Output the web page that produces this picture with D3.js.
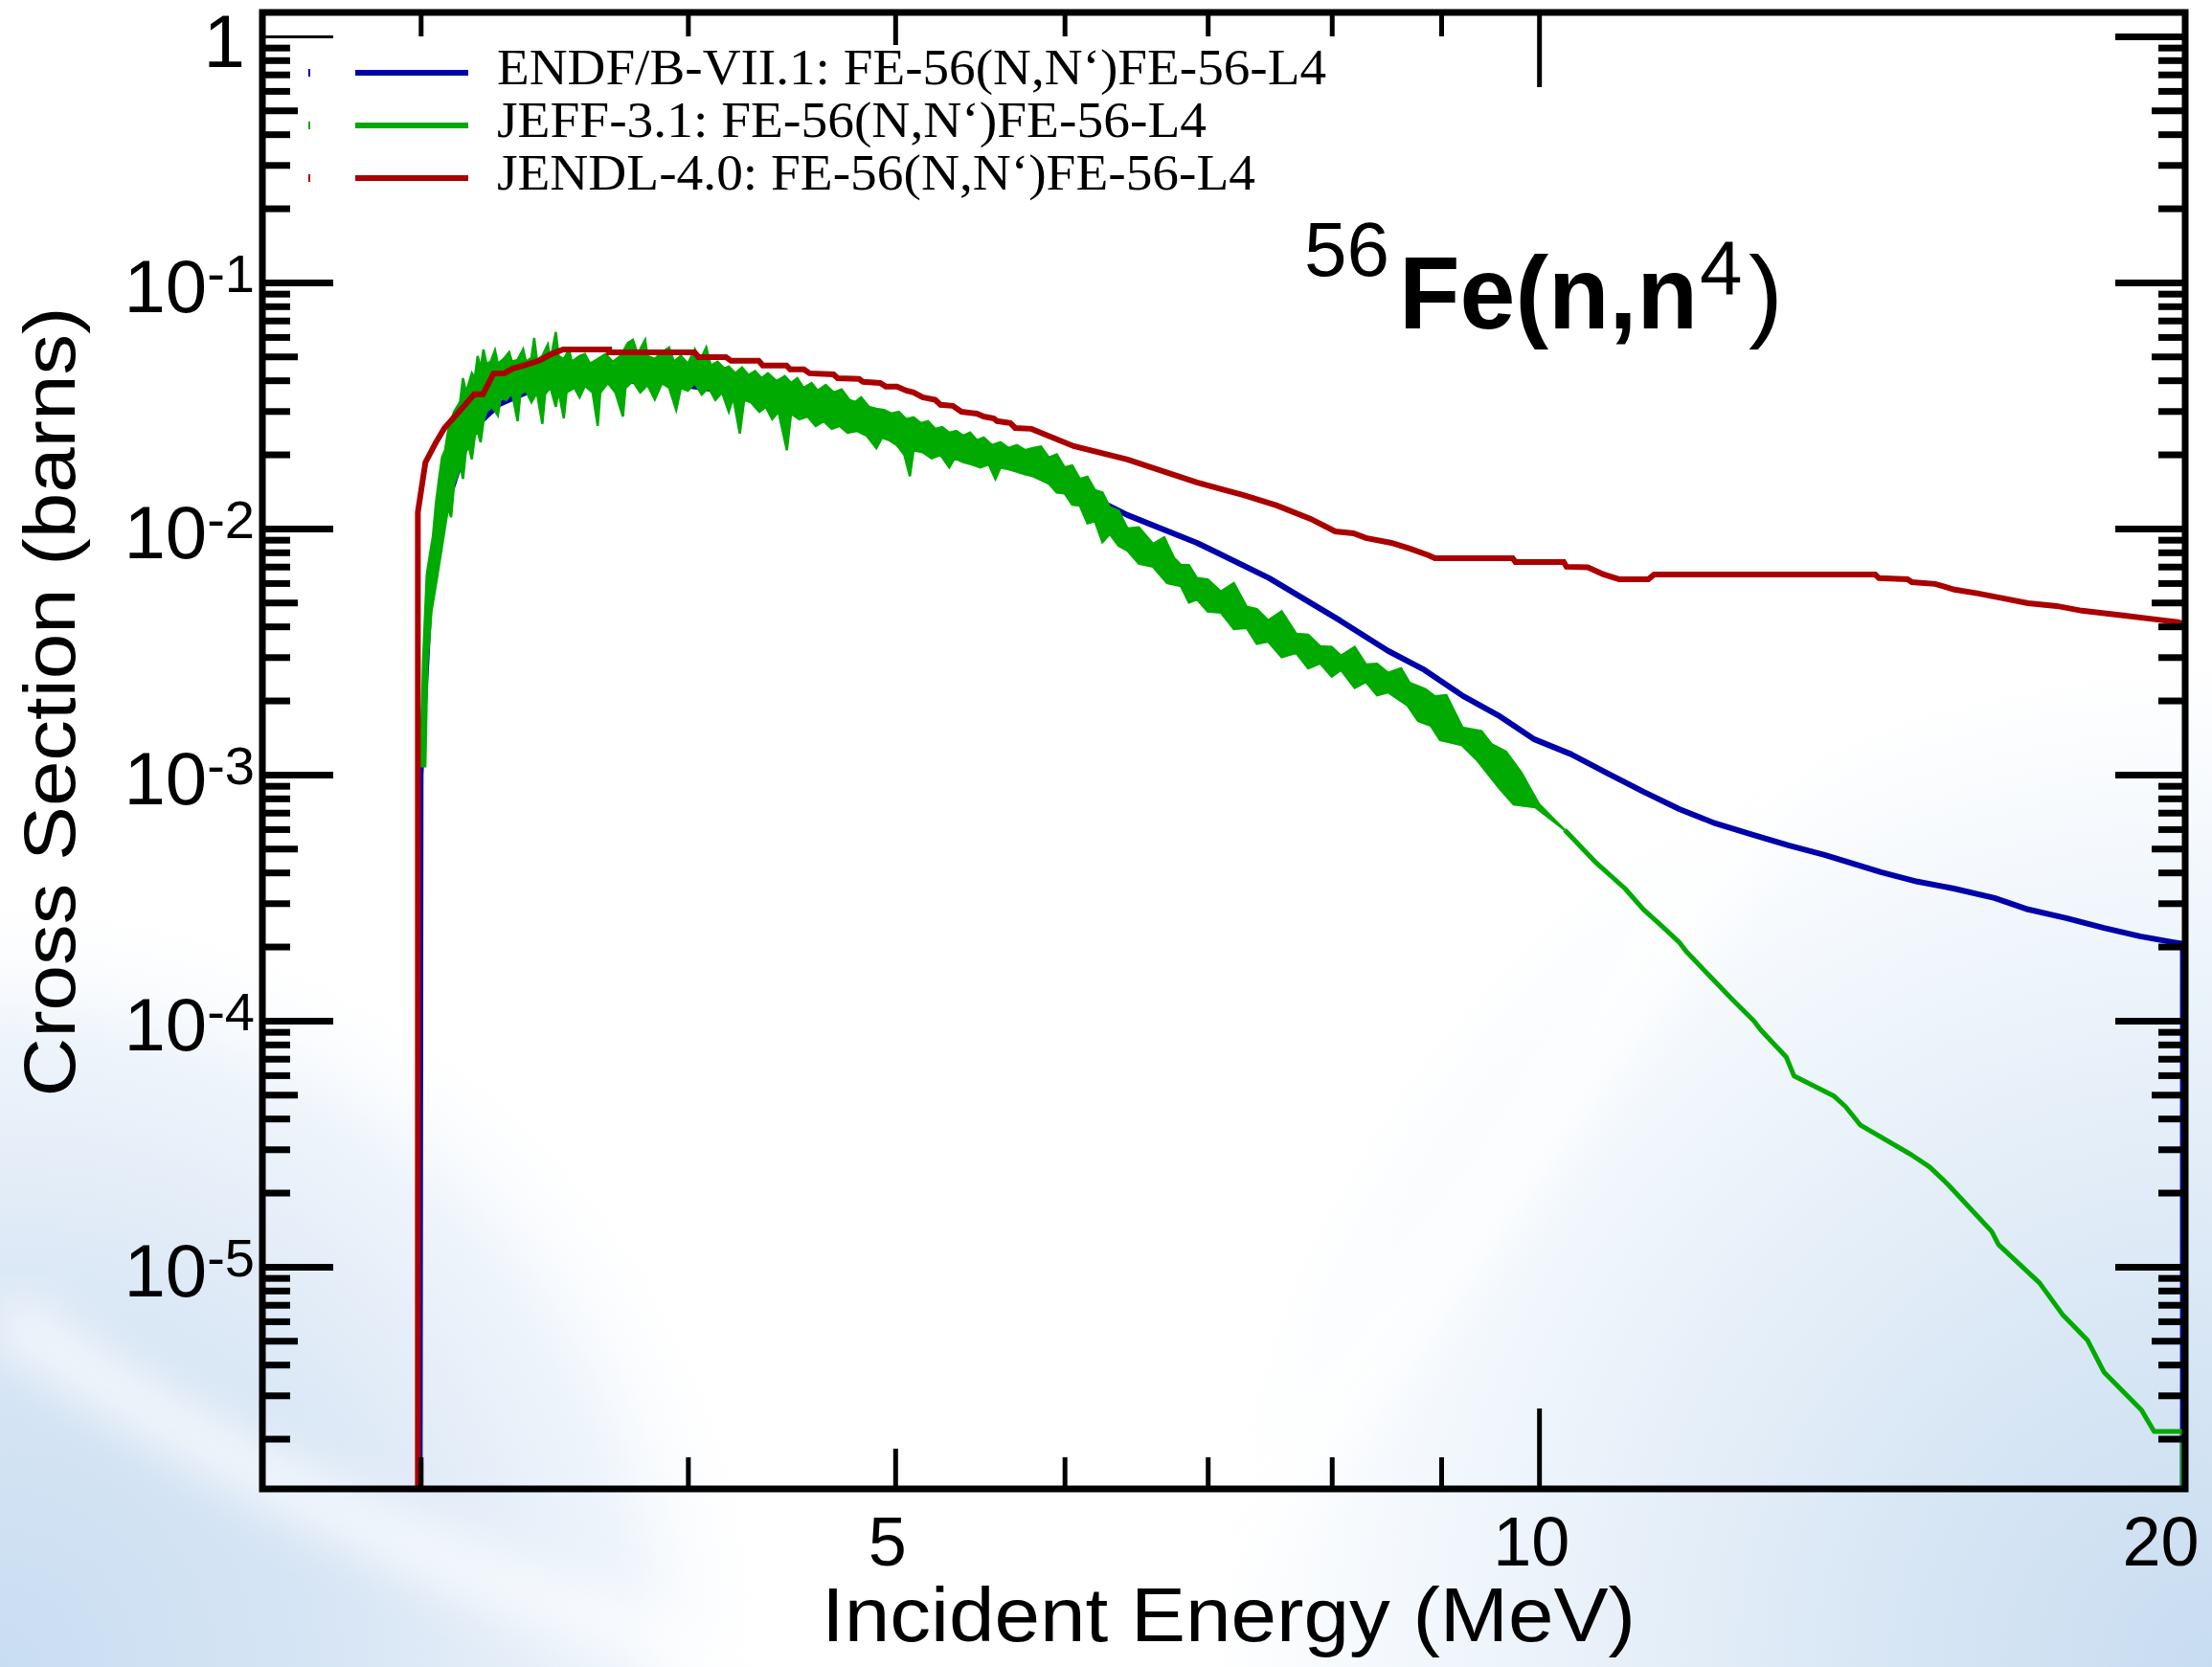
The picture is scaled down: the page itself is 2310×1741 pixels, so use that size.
<!DOCTYPE html>
<html>
<head>
<meta charset="utf-8">
<script src="https://cdn.jsdelivr.net/npm/d3@7"></script>
<style>
  body { margin: 0; background: #fff; }
  svg { display: block; }
</style>
</head>
<body>
<div id="chart"></div>
<script>
// ---- data (energy in MeV, cross section in barns) ----
var seriesNames = [
  'ENDF/B-VII.1: FE-56(N,N\u2018)FE-56-L4',
  'JEFF-3.1: FE-56(N,N\u2018)FE-56-L4',
  'JENDL-4.0: FE-56(N,N\u2018)FE-56-L4'
];
var seriesColors = ['#0000aa', '#00aa00', '#aa0000'];

var endf = [[2.995,1e-8],[3.0,1.0e-3],[3.012,1.98e-3],[3.019,2.9e-3],[3.034,0.0065],[3.056,0.00874],
  [3.078,0.01186],[3.106,0.01497],[3.141,0.0203],[3.19,0.02655],[3.265,0.032],[3.385,0.0367],
  [3.475,0.039],[3.64,0.0397],[3.86,0.0397],[4.07,0.0373],[4.27,0.0347],[4.49,0.0341],[4.68,0.0306],
  [4.91,0.028],[5.14,0.0249],[5.37,0.0222],[5.61,0.0191],[5.79,0.01775],[6.42,0.01134],[6.92,0.00874],
  [7.48,0.00628],[8.07,0.00423],[8.5,0.00318],[8.84,0.00266],[9.21,0.00209],[9.57,0.00174],
  [9.95,0.00139],[10.35,0.00121],[10.77,0.00101],[11.19,0.000851],[11.63,0.000724],[12.09,0.000633],
  [12.59,0.000569],[13.08,0.000515],[13.6,0.000471],[14.45,0.000401],[15.03,0.000367],[15.63,0.000344],
  [16.33,0.000315],[16.93,0.000283],[17.64,0.000261],[18.37,0.000238],[19.1,0.00022],[19.8,0.000208],
  [20.0,0.000205],[20.0,1e-8]];

var jendl = [[2.991,1e-8],[2.991,0.01164],[3.0155,0.01856],[3.05,0.0224],[3.078,0.0256],[3.155,0.0326],
  [3.178,0.0351],[3.208,0.0351],[3.245,0.0427],[3.282,0.0427],[3.313,0.0447],[3.351,0.0459],[3.407,0.048],
  [3.453,0.0511],[3.497,0.0534],[3.675,0.0534],[3.675,0.052],[4.029,0.052],[4.046,0.0497],[4.167,0.0497],
  [4.19,0.048],[4.317,0.048],[4.336,0.0459],[4.448,0.0459],[4.466,0.0443],[4.532,0.0443],[4.56,0.0427],
  [4.679,0.0423],[4.7,0.0408],[4.81,0.0405],[4.83,0.0394],[4.92,0.039],[4.95,0.0377],[5.01,0.0377],
  [5.06,0.0363],[5.1,0.0357],[5.15,0.0341],[5.22,0.0333],[5.25,0.0318],[5.32,0.0315],[5.37,0.0298],
  [5.46,0.0293],[5.5,0.0285],[5.56,0.028],[5.58,0.0273],[5.66,0.0268],[5.69,0.0256],[5.79,0.0254],
  [6.06,0.0216],[6.42,0.01906],[6.92,0.01537],[7.27,0.01368],[7.54,0.0124],[7.82,0.01094],[8.03,0.00973],
  [8.19,0.00956],[8.3,0.00915],[8.53,0.00874],[8.7,0.00829],[8.88,0.00778],[8.94,0.00757],[9.72,0.00757],
  [9.75,0.00731],[10.27,0.00731],[10.3,0.00699],[10.54,0.00695],[10.72,0.0065],[10.9,0.00622],
  [11.25,0.00622],[11.32,0.0065],[14.36,0.0065],[14.42,0.00628],[14.87,0.00622],[14.94,0.00605],
  [15.32,0.00595],[15.64,0.00564],[16.05,0.00544],[16.48,0.0052],[16.93,0.00497],[17.46,0.00484],
  [17.94,0.00463],[18.79,0.00442],[19.42,0.00427],[19.89,0.00416],[20.0,0.0041]];

// JEFF-3.1 fluctuates strongly below ~10 MeV: upper and lower edge of the green band
var jeffUpper = [[3.0,1.08e-3],[3.008,2.9e-3],[3.02,6.5e-3],[3.03,7.8e-3],[3.04,9.3e-3],[3.05,0.0127],
  [3.06,0.0159],[3.07,0.0195],[3.08,0.0208],[3.09,0.0249],[3.10,0.0273],[3.11,0.0298],[3.12,0.0312],
  [3.13,0.0326],[3.14,0.0408],[3.15,0.0357],[3.16,0.039],[3.17,0.0427],[3.18,0.0408],[3.19,0.0502],
  [3.20,0.0447],[3.21,0.0534],[3.22,0.0467],[3.235,0.0476],[3.25,0.0529],[3.26,0.0467],[3.28,0.0488],
  [3.30,0.052],[3.31,0.0476],[3.33,0.0484],[3.35,0.0534],[3.36,0.0476],[3.38,0.0493],[3.39,0.0595],
  [3.40,0.0484],[3.42,0.0502],[3.44,0.0559],[3.45,0.0484],[3.47,0.0628],[3.48,0.0502],[3.50,0.0488],
  [3.52,0.0534],[3.53,0.0476],[3.56,0.0502],[3.58,0.0511],[3.60,0.0467],[3.63,0.0488],[3.66,0.0511],
  [3.69,0.0476],[3.72,0.0502],[3.75,0.0568],[3.77,0.0584],[3.79,0.0511],[3.82,0.0584],[3.83,0.0502],
  [3.86,0.0488],[3.89,0.052],[3.92,0.0544],[3.94,0.0476],[3.97,0.0502],[4.00,0.0467],[4.03,0.0534],
  [4.05,0.0476],[4.08,0.0544],[4.10,0.0459],[4.13,0.0476],[4.16,0.0447],[4.18,0.0455],[4.21,0.0427],
  [4.24,0.0451],[4.27,0.042],[4.30,0.0436],[4.33,0.0408],[4.36,0.0427],[4.40,0.0397],[4.44,0.0416],
  [4.47,0.039],[4.50,0.0408],[4.53,0.0373],[4.57,0.039],[4.60,0.0363],[4.64,0.0383],[4.68,0.0357],
  [4.72,0.0367],[4.76,0.0333],[4.79,0.0326],[4.82,0.0341],[4.86,0.0312],[4.90,0.0306],[4.94,0.0303],
  [4.98,0.0293],[5.02,0.0298],[5.06,0.0278],[5.10,0.0283],[5.14,0.0268],[5.18,0.0273],[5.22,0.0254],
  [5.26,0.0258],[5.30,0.0245],[5.34,0.0249],[5.38,0.0238],[5.42,0.0245],[5.46,0.0228],[5.50,0.0234],
  [5.55,0.0218],[5.60,0.0224],[5.65,0.0212],[5.70,0.0218],[5.75,0.0208],[5.80,0.0212],[5.85,0.0215],
  [5.9,0.0194],[5.95,0.0200],[6.0,0.0177],[6.05,0.0180],[6.1,0.0159],[6.15,0.0162],[6.2,0.0143],
  [6.25,0.0140],[6.3,0.0122],[6.36,0.0118],[6.42,0.0100],[6.5,0.0101],[6.6,0.00866],[6.68,0.0092],
  [6.75,0.0076],[6.8,0.00711],[6.86,0.0071],[6.92,0.00628],[7.0,0.0062],[7.1,0.00554],[7.2,0.0060],
  [7.3,0.0048],[7.38,0.0047],[7.47,0.00423],[7.58,0.0046],[7.7,0.00373],[7.8,0.0037],[7.9,0.00332],
  [8.0,0.0033],[8.08,0.00304],[8.2,0.0033],[8.3,0.0028],[8.4,0.00282],[8.5,0.00259],[8.62,0.0027],
  [8.7,0.00236],[8.85,0.00222],[8.94,0.00208],[9.05,0.0021],[9.21,0.00155],[9.4,0.0015],[9.5,0.00133],
  [9.65,0.00124],[9.81,0.00102],[10.0,0.000757],[10.28,0.000595]];
var jeffLower = [[3.015,1.08e-3],[3.022,2.9e-3],[3.035,4.6e-3],[3.05,5.95e-3],[3.06,7.1e-3],[3.075,9.3e-3],
  [3.09,0.0122],[3.10,0.0111],[3.11,0.0152],[3.12,0.0163],[3.13,0.0182],[3.14,0.0159],[3.15,0.0208],
  [3.16,0.0214],[3.17,0.0191],[3.18,0.0238],[3.19,0.0249],[3.20,0.0224],[3.21,0.0273],[3.22,0.0298],
  [3.24,0.0312],[3.26,0.0288],[3.27,0.0341],[3.29,0.0333],[3.31,0.0357],[3.33,0.0273],[3.34,0.0352],
  [3.36,0.0363],[3.38,0.0326],[3.40,0.0357],[3.42,0.0266],[3.43,0.0352],[3.45,0.0373],[3.47,0.0312],
  [3.48,0.0363],[3.50,0.028],[3.51,0.0357],[3.54,0.0373],[3.56,0.0341],[3.58,0.038],[3.61,0.0357],
  [3.63,0.0261],[3.64,0.0357],[3.67,0.039],[3.70,0.0357],[3.73,0.0285],[3.74,0.0373],[3.77,0.0397],
  [3.80,0.0357],[3.83,0.0383],[3.86,0.0335],[3.89,0.039],[3.92,0.0373],[3.95,0.0303],[3.97,0.0373],
  [4.00,0.0363],[4.03,0.039],[4.06,0.035],[4.09,0.0373],[4.12,0.0333],[4.15,0.0357],[4.18,0.0298],
  [4.20,0.0341],[4.23,0.0243],[4.25,0.0333],[4.28,0.0326],[4.32,0.0298],[4.35,0.0312],[4.38,0.0278],
  [4.41,0.0298],[4.45,0.0208],[4.47,0.0293],[4.51,0.0278],[4.55,0.0285],[4.59,0.0261],[4.63,0.0273],
  [4.67,0.0254],[4.71,0.0261],[4.75,0.0245],[4.80,0.0249],[4.85,0.0238],[4.90,0.0212],[4.93,0.0234],
  [4.97,0.0228],[5.01,0.0218],[5.05,0.0199],[5.08,0.0163],[5.10,0.0208],[5.15,0.0204],[5.20,0.0193],
  [5.25,0.0199],[5.30,0.0177],[5.33,0.0193],[5.38,0.0186],[5.43,0.0182],[5.48,0.0177],[5.53,0.0182],
  [5.57,0.0159],[5.60,0.0177],[5.65,0.0174],[5.70,0.017],[5.75,0.0166],[5.80,0.0163],[5.9,0.0152],
  [5.95,0.0140],[6.0,0.0139],[6.05,0.0125],[6.1,0.0124],[6.15,0.0105],[6.2,0.0107],[6.25,0.0088],
  [6.3,0.0095],[6.36,0.0085],[6.42,0.00814],[6.5,0.0072],[6.6,0.00699],[6.7,0.0060],[6.8,0.00584],
  [6.86,0.0050],[6.92,0.00515],[7.0,0.0046],[7.1,0.00455],[7.2,0.0039],[7.3,0.00394],[7.38,0.0034],
  [7.47,0.00347],[7.58,0.0030],[7.7,0.00312],[7.8,0.0027],[7.9,0.00283],[8.0,0.0025],[8.08,0.00266],
  [8.2,0.00225],[8.3,0.00238],[8.4,0.0021],[8.5,0.00216],[8.68,0.00191],[8.78,0.00165],[8.9,0.00158],
  [8.99,0.00138],[9.2,0.00132],[9.35,0.00115],[9.58,0.000882],[9.73,0.000757],[9.96,0.000737],
  [10.28,0.000595]];
var jeffTail = [[10.28,5.95e-4],[10.62,4.43e-4],[10.97,3.44e-4],[11.19,2.83e-4],[11.41,2.43e-4],[11.63,2.08e-4],
  [11.73,1.89e-4],[12.3,1.23e-4],[12.6,1.0e-4],[12.7,9.14e-5],[13.05,7.11e-5],[13.16,5.95e-5],[13.74,4.93e-5],
  [13.91,4.47e-5],[14.13,3.77e-5],[14.93,2.85e-5],[15.23,2.54e-5],[15.53,2.16e-5],[16.28,1.39e-5],
  [16.4,1.23e-5],[17.14,8.59e-6],[17.57,6.39e-6],[18.05,5.02e-6],[18.37,3.73e-6],[19.13,2.61e-6],
  [19.39,2.14e-6],[20.0,2.14e-6],[20.0,1e-8]];

var xMinorTicks = [3, 4, 6, 7, 8, 9];
var xMidTicks = [5];
var xMajorTicks = [10];
var xLabels = [5, 10, 20];
var yDecades = [1, 1e-1, 1e-2, 1e-3, 1e-4, 1e-5];
var yDecadeLabels = ['1', '-1', '-2', '-3', '-4', '-5'];

// ---- layout ----
var width = 2310, height = 1741;
var plot = {left: 274, right: 2282, top: 13, bottom: 1555};

var svg = d3.select('#chart').append('svg')
  .attr('width', width)
  .attr('height', height);

var defs = svg.append('defs');

// slide background: light blue corners with soft white swooshes
var gBR = defs.append('radialGradient').attr('id', 'bgBR')
  .attr('gradientUnits', 'userSpaceOnUse').attr('cx', 2310).attr('cy', 1741).attr('r', 1050);
[[0, '#c8dcf0'], [0.35, '#d9e7f5'], [0.7, '#edf4fb'], [1, '#ffffff']].forEach(function(s) {
  gBR.append('stop').attr('offset', s[0]).attr('stop-color', s[1]);
});
var gBL = defs.append('radialGradient').attr('id', 'bgBL')
  .attr('gradientUnits', 'userSpaceOnUse').attr('cx', 0).attr('cy', 1741).attr('r', 820);
[[0, '#c9ddf1'], [0.45, '#d8e6f5'], [0.8, '#eef4fb'], [1, '#ffffff']].forEach(function(s) {
  gBL.append('stop').attr('offset', s[0]).attr('stop-color', s[1]).attr('stop-opacity', s[0] == 1 ? 0 : 1);
});
defs.append('filter').attr('id', 'soft').append('feGaussianBlur').attr('stdDeviation', 25);

defs.append('clipPath').attr('id', 'plotClip')
  .append('rect')
  .attr('x', plot.left).attr('y', plot.top)
  .attr('width', plot.right - plot.left).attr('height', plot.bottom - plot.top);

svg.append('rect').attr('width', width).attr('height', height).attr('fill', 'url(#bgBR)');
svg.append('rect').attr('width', width).attr('height', height).attr('fill', 'url(#bgBL)');
svg.append('path')
  .attr('d', 'M1150,1760 Q1700,1150 2230,120')
  .attr('fill', 'none').attr('stroke', '#ffffff').attr('stroke-width', 70)
  .attr('opacity', 0.8).attr('filter', 'url(#soft)');
svg.append('path')
  .attr('d', 'M0,1370 Q380,1640 860,1760')
  .attr('fill', 'none').attr('stroke', '#ffffff').attr('stroke-width', 55)
  .attr('opacity', 0.7).attr('filter', 'url(#soft)');

// ---- scales ----
var x = d3.scaleLog().domain([2.53, 20.05]).range([plot.left, plot.right]);
var y = d3.scaleLog().domain([1.25e-6, 1.25]).range([plot.bottom, plot.top]);

var line = d3.line()
  .x(function(d) { return x(d[0]); })
  .y(function(d) { return y(d[1]); });

// ---- curves ----
var curves = svg.append('g').attr('clip-path', 'url(#plotClip)');

curves.append('path')
  .attr('d', line(endf))
  .attr('fill', 'none').attr('stroke', seriesColors[0]).attr('stroke-width', 6)
  .attr('stroke-linejoin', 'round');

// JEFF band with its spiky edges, then the smooth part above 10 MeV
var band = jeffUpper.concat(jeffLower.slice().reverse());
curves.append('path')
  .attr('d', line(band) + 'Z')
  .attr('fill', seriesColors[1]).attr('stroke', seriesColors[1]).attr('stroke-width', 2.5)
  .attr('stroke-linejoin', 'miter');
curves.append('path')
  .attr('d', line(jeffTail))
  .attr('fill', 'none').attr('stroke', seriesColors[1]).attr('stroke-width', 5)
  .attr('stroke-linejoin', 'round');

curves.append('path')
  .attr('d', line(jendl))
  .attr('fill', 'none').attr('stroke', seriesColors[2]).attr('stroke-width', 6)
  .attr('stroke-linejoin', 'miter');

// ---- axes (ticks point inward) ----
function styleAxis(g, w) {
  g.select('.domain').remove();
  g.selectAll('.tick line').attr('stroke', '#000').attr('stroke-width', w);
  g.selectAll('.tick text').remove();
}

function mantissa(v) {
  return Math.round(v / Math.pow(10, Math.floor(Math.log10(v) + 1e-9)));
}
var yMinor = y.ticks().filter(function(v) { var m = mantissa(v); return m != 1 && m != 5; });
var yMid = y.ticks().filter(function(v) { return mantissa(v) == 5; });

// left
svg.append('g').attr('transform', 'translate(' + plot.left + ',0)')
  .call(d3.axisLeft(y).tickValues(yMinor).tickSize(-29)).call(styleAxis, 7);
svg.append('g').attr('transform', 'translate(' + plot.left + ',0)')
  .call(d3.axisLeft(y).tickValues(yMid).tickSize(-37)).call(styleAxis, 7);
svg.append('g').attr('transform', 'translate(' + plot.left + ',0)')
  .call(d3.axisLeft(y).tickValues(yDecades.slice(1)).tickSize(-74)).call(styleAxis, 7);
svg.append('g').attr('transform', 'translate(' + plot.left + ',0)')
  .call(d3.axisLeft(y).tickValues([1]).tickSize(-74)).call(styleAxis, 3);
// right
svg.append('g').attr('transform', 'translate(' + plot.right + ',0)')
  .call(d3.axisRight(y).tickValues(yMinor).tickSize(-28)).call(styleAxis, 7);
svg.append('g').attr('transform', 'translate(' + plot.right + ',0)')
  .call(d3.axisRight(y).tickValues(yMid).tickSize(-35)).call(styleAxis, 7);
svg.append('g').attr('transform', 'translate(' + plot.right + ',0)')
  .call(d3.axisRight(y).tickValues(yDecades).tickSize(-73)).call(styleAxis, 7);
// bottom
svg.append('g').attr('transform', 'translate(0,' + plot.bottom + ')')
  .call(d3.axisBottom(x).tickValues(xMinorTicks).tickSize(-33)).call(styleAxis, 5);
svg.append('g').attr('transform', 'translate(0,' + plot.bottom + ')')
  .call(d3.axisBottom(x).tickValues(xMidTicks).tickSize(-42)).call(styleAxis, 5);
svg.append('g').attr('transform', 'translate(0,' + plot.bottom + ')')
  .call(d3.axisBottom(x).tickValues(xMajorTicks).tickSize(-84)).call(styleAxis, 5);
// top
svg.append('g').attr('transform', 'translate(0,' + plot.top + ')')
  .call(d3.axisTop(x).tickValues(xMinorTicks).tickSize(-25)).call(styleAxis, 5);
svg.append('g').attr('transform', 'translate(0,' + plot.top + ')')
  .call(d3.axisTop(x).tickValues(xMidTicks).tickSize(-34)).call(styleAxis, 5);
svg.append('g').attr('transform', 'translate(0,' + plot.top + ')')
  .call(d3.axisTop(x).tickValues(xMajorTicks).tickSize(-78)).call(styleAxis, 5);

// frame
svg.append('rect')
  .attr('x', plot.left).attr('y', plot.top)
  .attr('width', plot.right - plot.left).attr('height', plot.bottom - plot.top)
  .attr('fill', 'none').attr('stroke', '#000').attr('stroke-width', 7);

// ---- tick labels ----
var sans = 'Liberation Sans, Arial, Helvetica, sans-serif';
yDecades.forEach(function(v, i) {
  var t = svg.append('text')
    .attr('x', 266).attr('y', y(v) + 31)
    .attr('text-anchor', 'end')
    .attr('font-family', sans).attr('font-size', 78).attr('fill', '#000');
  if (i == 0) {
    t.attr('x', 256).attr('y', y(v) + 32).text(yDecadeLabels[i]);
  } else {
    t.append('tspan').text('10');
    t.append('tspan').attr('font-size', 56).attr('dy', -21).text(yDecadeLabels[i]);
  }
});

xLabels.forEach(function(v, i) {
  svg.append('text')
    .attr('x', i == 2 ? x(v) + 17 : x(v) - 8).attr('y', 1635)
    .attr('text-anchor', i == 2 ? 'end' : 'middle')
    .attr('font-family', sans).attr('font-size', 72).attr('fill', '#000')
    .text(v);
});

// ---- axis titles ----
svg.append('text')
  .attr('x', 1283).attr('y', 1714)
  .attr('text-anchor', 'middle')
  .attr('font-family', sans).attr('font-size', 80)
  .attr('textLength', 850).attr('lengthAdjust', 'spacingAndGlyphs')
  .text('Incident Energy (MeV)');

svg.append('text')
  .attr('transform', 'translate(78,733) rotate(-90)')
  .attr('text-anchor', 'middle')
  .attr('font-family', sans).attr('font-size', 76)
  .attr('textLength', 825).attr('lengthAdjust', 'spacingAndGlyphs')
  .text('Cross Section (barns)');

// ---- reaction label ----
svg.append('text').attr('x', 1362).attr('y', 288)
  .attr('font-family', sans).attr('font-size', 80).text('56');
svg.append('text').attr('x', 1461).attr('y', 343)
  .attr('font-family', sans).attr('font-weight', 'bold').attr('font-size', 108)
  .attr('textLength', 312).attr('lengthAdjust', 'spacingAndGlyphs')
  .text('Fe(n,n');
svg.append('text').attr('x', 1775).attr('y', 307)
  .attr('font-family', sans).attr('font-size', 80).text('4');
svg.append('text').attr('x', 1826).attr('y', 343)
  .attr('font-family', sans).attr('font-size', 108).text(')');

// ---- legend ----
var serif = 'Liberation Serif, Times New Roman, serif';
var legendY = [76, 131, 186];
var legendLen = [866, 741, 792];
seriesNames.forEach(function(name, i) {
  svg.append('line')
    .attr('x1', 371).attr('x2', 489).attr('y1', legendY[i]).attr('y2', legendY[i])
    .attr('stroke', seriesColors[i]).attr('stroke-width', 6);
  svg.append('line')
    .attr('x1', 323).attr('x2', 323).attr('y1', legendY[i] - 4).attr('y2', legendY[i] + 4)
    .attr('stroke', seriesColors[i]).attr('stroke-width', 2);
  svg.append('text')
    .attr('x', 519).attr('y', legendY[i] + 12)
    .attr('font-family', serif).attr('font-size', 53)
    .attr('textLength', legendLen[i]).attr('lengthAdjust', 'spacingAndGlyphs')
    .text(name);
});
</script>
</body>
</html>
